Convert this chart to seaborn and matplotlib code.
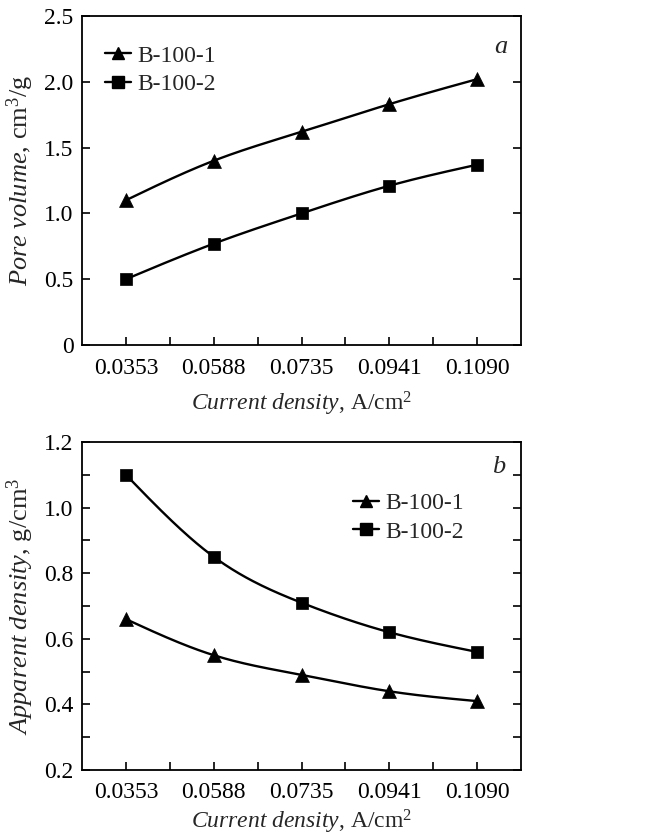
import numpy as np
import pandas as pd
import matplotlib
matplotlib.use("Agg")
import matplotlib.pyplot as plt
import seaborn as sns
from matplotlib.lines import Line2D
from matplotlib.ticker import FixedLocator

# ---- data ----
current_density = ["0.0353", "0.0588", "0.0735", "0.0941", "0.1090"]
series_names = ["B-100-1", "B-100-2"]
pore_b1 = [1.10, 1.40, 1.62, 1.83, 2.02]
pore_b2 = [0.50, 0.77, 1.00, 1.21, 1.37]
dens_b1 = [0.66, 0.55, 0.49, 0.44, 0.41]
dens_b2 = [1.10, 0.85, 0.71, 0.62, 0.56]
pore_ticks = [0, 0.5, 1.0, 1.5, 2.0, 2.5]
pore_ticklabels = ["0", "0.5", "1.0", "1.5", "2.0", "2.5"]
dens_ticks = [0.2, 0.4, 0.6, 0.8, 1.0, 1.2]
dens_ticklabels = ["0.2", "0.4", "0.6", "0.8", "1.0", "1.2"]
dens_minor = [0.3, 0.5, 0.7, 0.9, 1.1]

sns.set_theme(style="ticks")
plt.rcParams["font.family"] = ["Liberation Serif", "DejaVu Serif"]
plt.rcParams["mathtext.fontset"] = "custom"
plt.rcParams["mathtext.rm"] = "Liberation Serif"
plt.rcParams["mathtext.it"] = "Liberation Serif:italic"
plt.rcParams["axes.edgecolor"] = "black"
plt.rcParams["axes.linewidth"] = 1.3


def natural_spline(x, y, n=200):
    x = np.asarray(x, float)
    y = np.asarray(y, float)
    k = len(x)
    h = np.diff(x)
    A = np.zeros((k, k))
    b = np.zeros(k)
    A[0, 0] = A[-1, -1] = 1
    for i in range(1, k - 1):
        A[i, i - 1] = h[i - 1]
        A[i, i] = 2 * (h[i - 1] + h[i])
        A[i, i + 1] = h[i]
        b[i] = 3 * ((y[i + 1] - y[i]) / h[i] - (y[i] - y[i - 1]) / h[i - 1])
    c = np.linalg.solve(A, b)
    xs = np.linspace(x[0], x[-1], n)
    ys = np.empty_like(xs)
    for j, xv in enumerate(xs):
        i = min(np.searchsorted(x, xv, side="right") - 1, k - 2)
        dx = xv - x[i]
        bi = (y[i + 1] - y[i]) / h[i] - h[i] * (2 * c[i] + c[i + 1]) / 3
        di = (c[i + 1] - c[i]) / (3 * h[i])
        ys[j] = y[i] + bi * dx + c[i] * dx ** 2 + di * dx ** 3
    return xs, ys


fig = plt.figure(figsize=(6.51, 8.40), dpi=100)
ax1 = fig.add_axes([82 / 651, (840 - 345) / 840, 439 / 651, 329 / 840])
ax2 = fig.add_axes([82 / 651, (840 - 770) / 840, 439 / 651, 328 / 840])

pos = np.arange(len(current_density))
markers = ["^", "s"]
msizes = [10, 9]

FS = 17


def draw(ax, ys_list, xlabelpad):
    for yv, mk, ms in zip(ys_list, markers, msizes):
        xs, ys = natural_spline(pos, yv)
        sns.lineplot(x=xs, y=ys, ax=ax, color="black", lw=1.7, estimator=None,
                     sort=False)
        sns.scatterplot(x=pos, y=yv, ax=ax, color="black", marker=mk, s=ms ** 2,
                        edgecolor="black", linewidth=0.5, zorder=3)
    ax.set_xlim(-0.5, 4.5)
    ax.set_xticks(pos)
    ax.set_xticklabels(current_density, fontsize=FS)
    ax.xaxis.set_minor_locator(FixedLocator(pos[:-1] + 0.5))
    ax.tick_params(axis="both", which="both", direction="in", colors="black",
                   labelsize=FS)
    ax.tick_params(axis="x", which="major", length=6, width=1.2, pad=9)
    ax.tick_params(axis="x", which="minor", length=6, width=1.2)
    ax.tick_params(axis="y", which="both", length=6, width=1.2, right=True, pad=6)
    ax.set_xlabel(r"$\it{Current\ density}$, A/cm$^2$", fontsize=FS,
                  labelpad=xlabelpad)
    handles = [Line2D([], [], color="black", lw=1.7, marker=m, markersize=8)
               for m in markers]
    return handles


h = draw(ax1, [pore_b1, pore_b2], 8)
ax1.set_ylim(0, 2.5)
ax1.set_yticks(pore_ticks)
ax1.set_yticklabels(pore_ticklabels)
ax1.set_ylabel(r"$\it{Pore\ volume}$, cm$^3$/g", fontsize=19, labelpad=6)
ax1.legend(h, series_names, loc="upper left", frameon=False, fontsize=FS,
           handlelength=1.1, handletextpad=0.3, labelspacing=0.3,
           bbox_to_anchor=(0.03, 0.94), borderaxespad=0)
ax1.text(0.97, 0.906, "a", transform=ax1.transAxes, ha="right", va="center",
         fontsize=FS + 2, style="italic")

h = draw(ax2, [dens_b1, dens_b2], 3)
ax2.set_ylim(0.2, 1.2)
ax2.set_yticks(dens_ticks)
ax2.set_yticklabels(dens_ticklabels)
ax2.yaxis.set_minor_locator(FixedLocator(dens_minor))
ax2.set_ylabel(r"$\it{Apparent\ density}$, g/cm$^3$", fontsize=19, labelpad=6)
ax2.legend(h, series_names, loc="upper left", frameon=False, fontsize=FS,
           handlelength=1.1, handletextpad=0.3, labelspacing=0.3,
           bbox_to_anchor=(0.595, 0.875), borderaxespad=0)
ax2.text(0.965, 0.924, "b", transform=ax2.transAxes, ha="right", va="center",
         fontsize=FS + 2, style="italic")

for ax in (ax1, ax2):
    for s in ax.spines.values():
        s.set_visible(True)
        s.set_color("black")

fig.savefig("out.png", dpi=100, facecolor="white")
